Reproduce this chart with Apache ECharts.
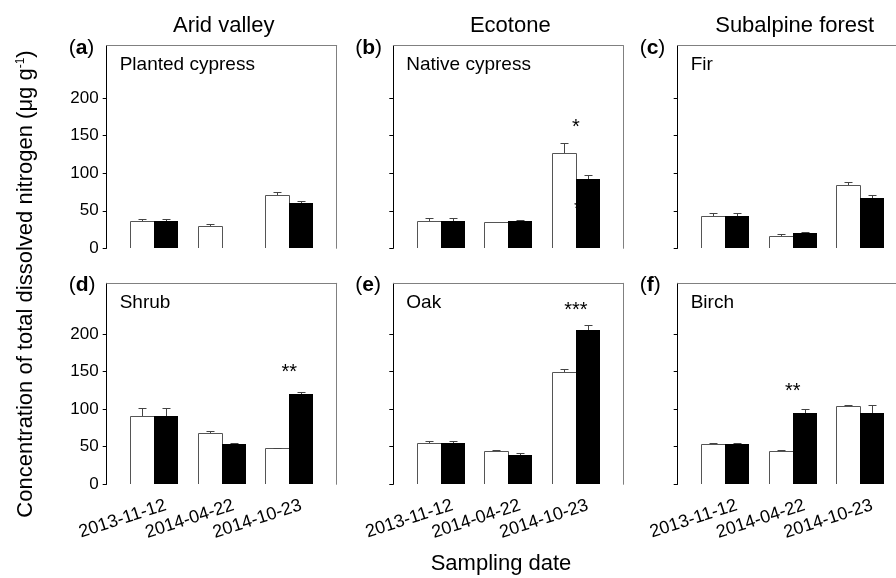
<!DOCTYPE html>
<html><head><meta charset="utf-8">
<script src="https://cdn.jsdelivr.net/npm/echarts@6/dist/echarts.min.js"></script>
<style>html,body{margin:0;padding:0;background:#fff}#c{width:896px;height:578px}</style>
</head><body><div id="c"></div>
<script>
// ---------- data ----------
const dates = ['2013-11-12', '2014-04-22', '2014-10-23'];
const zones = ['Arid valley', 'Ecotone', 'Subalpine forest'];
const panelLetters = ['a', 'b', 'c', 'd', 'e', 'f'];
const species = ['Planted cypress', 'Native cypress', 'Fir', 'Shrub', 'Oak', 'Birch'];
const yTicks = [0, 50, 100, 150, 200];

// open (white) bars and filled (black) bars: mean and upper error
const aWhite = [37, 29.3, 70.7],  aWhiteErr = [2.7, 2.7, 4.8];
const aBlack = [37, null, 60.8],  aBlackErr = [2.5, 0, 1.9];
const bWhite = [37, 34.7, 126.7], bWhiteErr = [3, 0, 14.1];
const bBlack = [37, 36, 92.4],    bBlackErr = [3, 1.3, 5.8];
const cWhite = [43.5, 16.4, 84.4], cWhiteErr = [3.2, 2.3, 4];
const cBlack = [43.5, 20.4, 67.5], cBlackErr = [3.2, 0.9, 3.5];
const dWhite = [91.5, 68, 48],    dWhiteErr = [9.8, 3, 0.5];
const dBlack = [91.5, 53.3, 120.8], dBlackErr = [9.8, 2.2, 2.7];
const eWhite = [55.5, 44.4, 149.3], eWhiteErr = [2.2, 1.3, 4.7];
const eBlack = [55.5, 39.5, 206],   eBlackErr = [2.2, 2.5, 6];
const fWhite = [54, 44, 104.8],   fWhiteErr = [1.5, 2, 0.5];
const fBlack = [54, 94.7, 95.5],  fBlackErr = [1.5, 5.7, 10.5];

// significance marks
const sigPanel = [1, 1, 3, 4, 5];
const sigDate  = [3, 3, 3, 3, 2];
const sigY     = [166, 57, 154, 236, 129];
const sigText  = ['*', '*', '**', '***', '**'];

// ---------- layout / style ----------
const FONT = '"Liberation Sans", Arial, Helvetica, sans-serif';
const colLeft = [106.7, 393.3, 677.7];
const gridW = 230;
const rowTop = [45.7, 283.3];
const rowH = [202.6, 201];
const yMax = [270, 267.5];
const xMin = 0.3, xMax = 3.7, labelShift = 0.133;
const barW = 24, capW = 8;
const sigDx = [0, 2, 0, 0, 0];

const whites = [aWhite, bWhite, cWhite, dWhite, eWhite, fWhite];
const whiteErrs = [aWhiteErr, bWhiteErr, cWhiteErr, dWhiteErr, eWhiteErr, fWhiteErr];
const blacks = [aBlack, bBlack, cBlack, dBlack, eBlack, fBlack];
const blackErrs = [aBlackErr, bBlackErr, cBlackErr, dBlackErr, eBlackErr, fBlackErr];

// bars: value 3 = side (-1 open bar left of the date, +1 filled bar right of it)
function barRender(params, api) {
  const x = api.value(0), v = api.value(1), side = api.value(2);
  const base = api.coord([x, 0]);
  const top = api.coord([x, v]);
  const cx = Math.round(base[0]);
  const by = Math.round(base[1]);
  const ty = Math.round(top[1]);
  if (side > 0) {
    return { type: 'rect', shape: { x: cx, y: ty, width: barW, height: by - ty }, style: { fill: '#000' } };
  }
  const x0 = cx - barW + 0.5, x1 = cx + 0.5, t = ty + 0.5;
  return { type: 'group', children: [
    { type: 'rect', shape: { x: cx - barW, y: ty, width: barW, height: by - ty }, style: { fill: '#fff' } },
    { type: 'polyline', shape: { points: [[x0, by], [x0, t], [x1, t], [x1, by]] },
      style: { stroke: '#555', lineWidth: 1, fill: null } }
  ]};
}
function errRender(params, api) {
  const x = api.value(0), v = api.value(1), e = api.value(2), side = api.value(3);
  const base = api.coord([x, v]);
  const top = api.coord([x, v + e]);
  const cx = Math.round(base[0] + side * barW / 2) + 0.5;
  const ty = Math.round(top[1]) + 0.5;
  const by = Math.round(base[1]);
  const st = { stroke: '#444', lineWidth: 1 };
  return { type: 'group', children: [
    { type: 'line', shape: { x1: cx, y1: by, x2: cx, y2: ty }, style: st },
    { type: 'line', shape: { x1: cx - capW / 2, y1: ty, x2: cx + capW / 2, y2: ty }, style: st }
  ]};
}
function sigRender(params, api) {
  const j = api.value(2);
  const p = api.coord([api.value(0), api.value(1)]);
  return { type: 'text', x: p[0] + sigDx[j], y: p[1] + 4, style: {
    text: sigText[j], fill: '#000', font: '20px ' + FONT, align: 'center', verticalAlign: 'middle' } };
}

const grids = [], xAxes = [], yAxes = [], series = [], graphics = [];
for (let i = 0; i < 6; i++) {
  const r = Math.floor(i / 3), c = i % 3;
  grids.push({ left: colLeft[c], top: rowTop[r], width: gridW, height: rowH[r],
    containLabel: false, outerBoundsMode: 'none', show: false });
  xAxes.push({ type: 'value', gridIndex: i, min: xMin, max: xMax, position: 'bottom',
    axisLine: { show: false, onZero: false }, axisTick: { show: false }, axisLabel: { show: false }, splitLine: { show: false } });
  xAxes.push({ type: 'value', gridIndex: i, min: xMin, max: xMax, position: 'top',
    axisLine: { show: true, onZero: false, lineStyle: { color: '#808080', width: 1 } },
    axisTick: { show: false }, axisLabel: { show: false }, splitLine: { show: false } });
  xAxes.push({ type: 'value', gridIndex: i, min: xMin - labelShift, max: xMax - labelShift, position: 'bottom',
    axisLine: { show: false, onZero: false }, axisTick: { show: false }, splitLine: { show: false },
    axisLabel: { show: r === 1, customValues: [1, 2, 3],
      formatter: v => dates[Math.round(v) - 1] || '',
      rotate: 18, align: 'right', verticalAlign: 'top', margin: 12,
      fontSize: 18, color: '#000', fontFamily: FONT } });
  yAxes.push({ type: 'value', gridIndex: i, min: 0, max: yMax[r], position: 'left',
    axisLine: { show: true, onZero: false, lineStyle: { color: '#000', width: 1 } },
    axisTick: { show: true, length: 4, customValues: yTicks, lineStyle: { color: '#000' } },
    axisLabel: { show: c === 0, customValues: yTicks, fontSize: 17, margin: 8, color: '#000', fontFamily: FONT },
    splitLine: { show: false } });
  yAxes.push({ type: 'value', gridIndex: i, min: 0, max: yMax[r], position: 'right',
    axisLine: { show: true, onZero: false, lineStyle: { color: '#808080', width: 1 } },
    axisTick: { show: false }, axisLabel: { show: false }, splitLine: { show: false } });

  const barData = [], errData = [];
  dates.forEach((d, k) => {
    if (whites[i][k] != null) barData.push([k + 1, whites[i][k], -1]);
    if (blacks[i][k] != null) barData.push([k + 1, blacks[i][k], 1]);
    if (whites[i][k] != null && whiteErrs[i][k] > 0) errData.push([k + 1, whites[i][k], whiteErrs[i][k], -1]);
    if (blacks[i][k] != null && blackErrs[i][k] > 0) errData.push([k + 1, blacks[i][k], blackErrs[i][k], 1]);
  });
  series.push({ type: 'custom', xAxisIndex: 3 * i, yAxisIndex: 2 * i, data: barData,
    renderItem: barRender, z: 3, clip: false, silent: true });
  series.push({ type: 'custom', xAxisIndex: 3 * i, yAxisIndex: 2 * i, data: errData,
    renderItem: errRender, z: 5, clip: false, silent: true });
  const sigData = [];
  sigPanel.forEach((p, j) => { if (p === i) sigData.push([sigDate[j], sigY[j], j]); });
  if (sigData.length) series.push({ type: 'custom', xAxisIndex: 3 * i, yAxisIndex: 2 * i, data: sigData,
    renderItem: sigRender, z: 6, clip: false, silent: true });

  // panel letter and species name
  graphics.push({ type: 'text', x: colLeft[c] - 38, y: rowTop[r] + (r === 0 ? 3 : 1.5), style: {
    text: '({b|' + panelLetters[i] + '})', fill: '#000', font: '21px ' + FONT,
    align: 'left', verticalAlign: 'middle',
    rich: { b: { fontWeight: 'bold', fontSize: 21, fontFamily: FONT, fill: '#000' } } } });
  graphics.push({ type: 'text', x: colLeft[c] + 13, y: rowTop[r] + 19, style: {
    text: species[i], fill: '#000', font: '19px ' + FONT, align: 'left', verticalAlign: 'middle' } });
}
zones.forEach((z, c) => graphics.push({ type: 'text', x: colLeft[c] + gridW / 2 + 2, y: 26, style: {
  text: z, fill: '#000', font: '22px ' + FONT, align: 'center', verticalAlign: 'middle' } }));
graphics.push({ type: 'text', x: 501, y: 564, style: {
  text: 'Sampling date', fill: '#000', font: '22px ' + FONT, align: 'center', verticalAlign: 'middle' } });
graphics.push({ type: 'text', x: 26, y: 284, rotation: Math.PI / 2, style: {
  text: 'Concentration of total dissolved nitrogen (μg g{sup|-1})', fill: '#000', font: '22px ' + FONT,
  align: 'center', verticalAlign: 'middle',
  rich: { sup: { fontSize: 12, fontFamily: FONT, fill: '#000', verticalAlign: 'top' } } } });

const chart = echarts.init(document.getElementById('c'), null, { renderer: 'canvas' });
chart.setOption({
  animation: false,
  backgroundColor: '#fff',
  textStyle: { fontFamily: FONT },
  grid: grids, xAxis: xAxes, yAxis: yAxes, series: series, graphic: graphics
});
</script></body></html>
